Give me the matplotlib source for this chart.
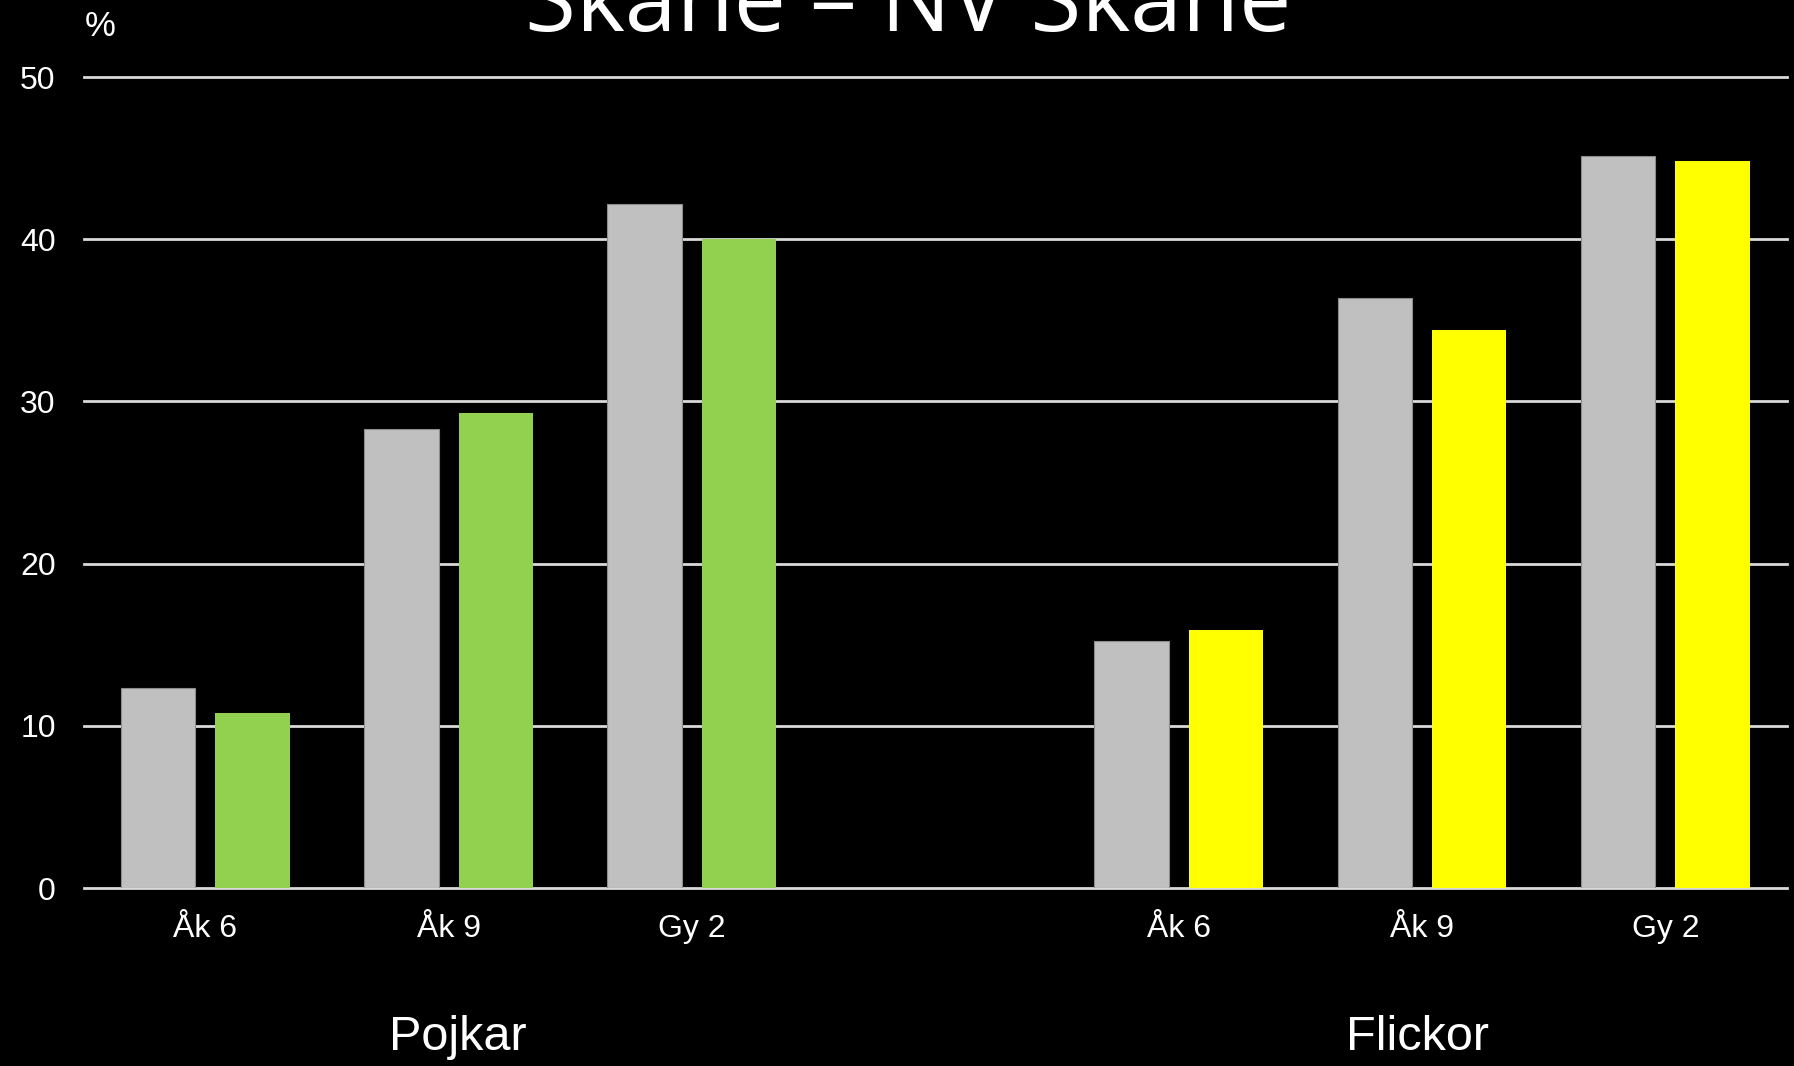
import matplotlib
matplotlib.use("Agg")
import matplotlib.pyplot as plt
import numpy as np

categories = ["Åk 6", "Åk 9", "Gy 2", "", "Åk 6", "Åk 9", "Gy 2"]
skane = [12.3, 28.3, 42.2, None, 15.2, 36.4, 45.1]
nv_skane = [10.8, 29.3, 40.0, None, 15.9, 34.4, 44.8]
nv_colors = ["#92D050", "#92D050", "#92D050", None, "#FFFF00", "#FFFF00", "#FFFF00"]
groups = ["Pojkar", "Flickor"]
title = "Skåne – NV Skåne"
yticks = [0, 10, 20, 30, 40, 50]

W, H = 1794, 1066
fig = plt.figure(figsize=(W / 100, H / 100), dpi=100, facecolor="black")
left, right = 83.5, 1787
bottom = 888
ymax = 51
px_per_unit = (888 - 77) / 50
top = bottom - ymax * px_per_unit
ax = fig.add_axes([left / W, 1 - bottom / H, (right - left) / W, (bottom - top) / H])
ax.set_facecolor("black")

FAM = ["Liberation Sans", "DejaVu Sans"]

x = np.arange(len(categories))
width = 0.306
off = 0.194
for i in range(len(categories)):
    if skane[i] is None:
        continue
    ax.bar(x[i] - off, skane[i], width, color="#C0C0C0", edgecolor="#8C8C8C", linewidth=0.8, zorder=3)
    ax.bar(x[i] + off, nv_skane[i], width, color=nv_colors[i], linewidth=0, zorder=3)

ax.set_xlim(-0.5, len(categories) - 0.5)
ax.set_ylim(0, ymax)
ax.set_yticks(yticks)
ax.set_yticklabels([str(v) for v in yticks], family=FAM)
ax.set_xticks(x)
ax.set_xticklabels(categories, family=FAM)
ax.tick_params(axis="both", length=0, colors="white", labelsize=23)
ax.tick_params(axis="y", pad=20)
ax.tick_params(axis="x", pad=19)
for s in ax.spines.values():
    s.set_visible(False)
for v in yticks:
    ax.axhline(v, color="#D9D9D9", linewidth=2, zorder=1, clip_on=False)

# group labels
trans = matplotlib.transforms.blended_transform_factory(ax.transData, fig.transFigure)
for gx, g in zip([1.04, 4.98], groups):
    ax.text(gx, 1 - 1038 / H, g, transform=trans,
            ha="center", va="center", color="white", fontsize=35, family=FAM)

fig.text(100.5 / W, 1 - 26 / H, "%", ha="center", va="center", color="white", fontsize=25, family=FAM)
fig.text(908 / W, 1 - 31 / H, title, ha="center", va="baseline", color="white", fontsize=67,
         family=["Open Sans", "DejaVu Sans"])

fig.savefig("out.png", dpi=100, facecolor="black")
